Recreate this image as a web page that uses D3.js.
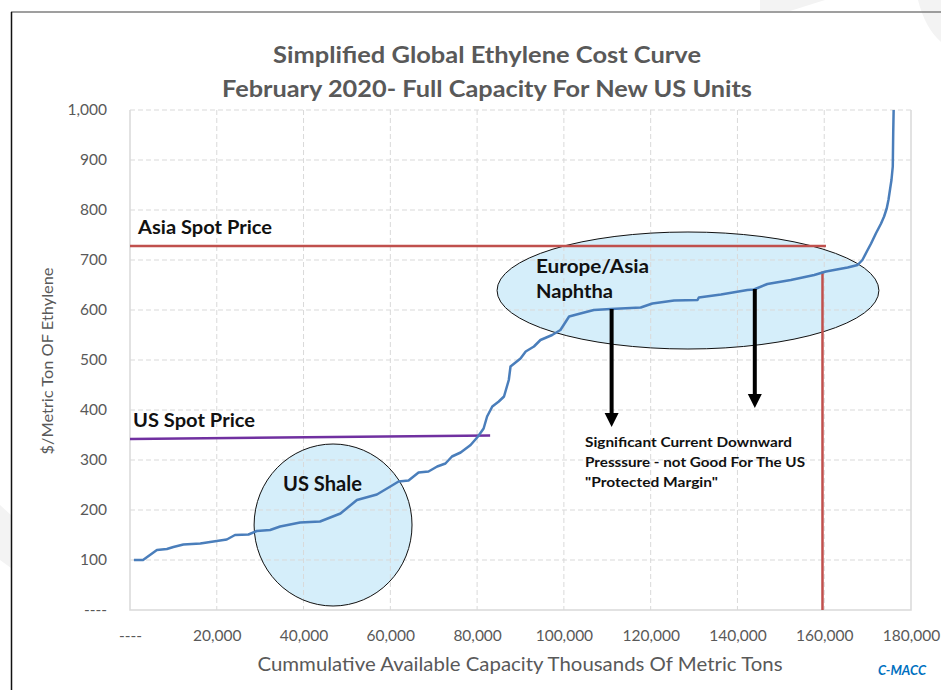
<!DOCTYPE html>
<html>
<head>
<meta charset="utf-8">
<script src="https://cdn.jsdelivr.net/npm/d3@7"></script>
<style>
  body { margin: 0; background: #fff; }
  svg { display: block; }
  text { font-family: Lato, "Open Sans", "DejaVu Sans", sans-serif; }
</style>
</head>
<body>
<svg id="chart" width="941" height="690"></svg>
<script>
// Cumulative capacity (thousand metric tons) and cash cost ($/t) along the cost curve
const capacity = [900, 3000, 6200, 8500, 10000, 12300, 16200, 20000, 22300, 24200, 27300, 29200,
  32300, 34600, 39200, 43800, 48500, 52300, 56900, 60000, 61900, 64200, 66500, 68800, 70800,
  72700, 74200, 76200, 78500, 80200, 81500, 82300, 83500, 85000, 86200, 87300, 87700, 90000,
  91200, 93100, 94600, 97300, 99200, 101200, 103800, 106900, 110800, 117700, 120400, 125400,
  130800, 131100, 136200, 142300, 143800, 146900, 152300, 157700, 160400, 165400, 167700,
  168800, 170000, 170800, 171900, 173100, 173800, 174400, 174800, 175200, 175500, 175800,
  175900, 176000];
const cost = [100, 100, 120, 122, 126, 131, 133, 138, 141, 150, 151, 158, 160, 167, 175, 177,
  193, 220, 231, 247, 257, 259, 275, 277, 287, 293, 307, 315, 330, 347, 363, 387, 407, 417,
  427, 460, 487, 503, 517, 527, 540, 550, 560, 587, 593, 600, 602, 605, 613, 619, 620, 625,
  631, 640, 641, 652, 660, 670, 677, 685, 690, 700, 720, 733, 753, 773, 787, 803, 820, 843,
  860, 887, 953, 1000];

// Axis ticks
const xTicks = [0, 20000, 40000, 60000, 80000, 100000, 120000, 140000, 160000, 180000];
const yTicks = [0, 100, 200, 300, 400, 500, 600, 700, 800, 900, 1000];

// Reference prices and markers
const asiaSpotPrice = [728, 728];
const asiaSpotRange = [0, 160400];
const usSpotPrice = [342, 349];
const usSpotRange = [0, 83000];
const newUnitsCapacity = [159600, 159600];
const newUnitsCost = [0, 677];
const arrowCapacity = [111000, 144000];
const arrowFromCost = [602, 642];
const arrowToCost = [366, 404];

const titleLines = ["Simplified Global Ethylene Cost Curve", "February 2020- Full Capacity For New US Units"];
const noteLines = ["Significant Current Downward", "Presssure - not Good For The US", "\"Protected Margin\""];

const svg = d3.select("#chart");
const plot = { left: 130, right: 911, top: 110, bottom: 610 };

const x = d3.scaleLinear().domain([0, 180000]).range([plot.left, plot.right]);
const y = d3.scaleLinear().domain([0, 1000]).range([plot.bottom, plot.top]);
const fmt = v => v === 0 ? "----" : d3.format(",")(v);

// faint background shapes behind the frame
const bg = svg.append("g").attr("fill", "#f3f3f3");
bg.append("path").attr("d", "M760,0 L825,0 L790,11 L760,11 Z");
bg.append("path").attr("d", "M918,0 L941,0 L941,42 Q925,28 918,0 Z");
bg.append("path").attr("d", "M0,505 L11,515 L11,568 L0,560 Z");

// frame
svg.append("line").attr("x1", 11).attr("x2", 941).attr("y1", 12).attr("y2", 12)
  .attr("stroke", "#7f7f7f").attr("stroke-width", 1.5);
svg.append("line").attr("x1", 11.5).attr("x2", 11.5).attr("y1", 12).attr("y2", 690)
  .attr("stroke", "#111").attr("stroke-width", 1.5);

// title
const title = svg.append("g").attr("fill", "#595959").attr("font-weight", "bold")
  .attr("font-size", 22).attr("text-anchor", "middle");
title.append("text").attr("x", 487).attr("y", 63).attr("textLength", 428)
  .attr("lengthAdjust", "spacingAndGlyphs").text(titleLines[0]);
title.append("text").attr("x", 487).attr("y", 97).attr("textLength", 530)
  .attr("lengthAdjust", "spacingAndGlyphs").text(titleLines[1]);

// annotation ellipses (under the grid so gridlines show through)
const ellipses = [
  { cx: 46800, cy: 170, rx: 18200, ry: 162 },
  { cx: 128600, cy: 639, rx: 44000, ry: 117 }
];
svg.append("g").selectAll("ellipse").data(ellipses).join("ellipse")
  .attr("cx", d => x(d.cx)).attr("cy", d => y(d.cy))
  .attr("rx", d => x(d.rx) - x(0)).attr("ry", d => y(0) - y(d.ry))
  .attr("fill", "#d5eefa");

// grid
const grid = svg.append("g").attr("stroke", "#d9d9d9").attr("stroke-width", 1)
  .attr("stroke-dasharray", "5,3");
grid.selectAll(".gx").data(xTicks.filter(d => d > 0 && d < 180000)).join("line")
  .attr("x1", d => x(d)).attr("x2", d => x(d)).attr("y1", plot.top).attr("y2", plot.bottom);
grid.selectAll(".gy").data(yTicks.filter(d => d > 0)).join("line")
  .attr("x1", plot.left).attr("x2", plot.right).attr("y1", d => y(d)).attr("y2", d => y(d));

const frameAxes = svg.append("g").attr("stroke", "#d9d9d9").attr("stroke-width", 1.5).attr("fill", "none");
frameAxes.append("path").attr("d", `M${plot.left},${plot.top}V${plot.bottom}H${plot.right}V${plot.top}`);

// ellipse outlines
svg.append("g").selectAll("ellipse").data(ellipses).join("ellipse")
  .attr("cx", d => x(d.cx)).attr("cy", d => y(d.cy))
  .attr("rx", d => x(d.rx) - x(0)).attr("ry", d => y(0) - y(d.ry))
  .attr("fill", "none").attr("stroke", "#111").attr("stroke-width", 1);

// axes
const yAxis = svg.append("g").attr("transform", `translate(${plot.left},0)`)
  .call(d3.axisLeft(y).tickValues(yTicks).tickSize(0).tickPadding(23).tickFormat(fmt));
const xAxis = svg.append("g").attr("transform", `translate(0,${plot.bottom})`)
  .call(d3.axisBottom(x).tickValues(xTicks).tickSize(0).tickPadding(20).tickFormat(fmt));
[yAxis, xAxis].forEach(a => {
  a.select(".domain").remove();
  a.selectAll("text").attr("fill", "#595959").attr("font-size", 15.5)
    .style("font-family", "Lato, 'Open Sans', sans-serif");
});

// axis titles
svg.append("text").attr("transform", "translate(53,361) rotate(-90)")
  .attr("text-anchor", "middle").attr("fill", "#595959").attr("font-size", 15)
  .attr("textLength", 187).attr("lengthAdjust", "spacingAndGlyphs")
  .text("$/Metric Ton OF Ethylene");
svg.append("text").attr("x", 520).attr("y", 671).attr("text-anchor", "middle")
  .attr("fill", "#595959").attr("font-size", 19)
  .attr("textLength", 525).attr("lengthAdjust", "spacingAndGlyphs")
  .text("Cummulative Available Capacity Thousands Of Metric Tons");
svg.append("text").attr("x", 878).attr("y", 675)
  .attr("fill", "#0070c0").attr("font-size", 12.5).attr("font-weight", "bold")
  .attr("font-style", "italic").attr("textLength", 48).attr("lengthAdjust", "spacingAndGlyphs")
  .text("C-MACC");

// price lines
svg.append("line").attr("x1", x(asiaSpotRange[0])).attr("x2", x(asiaSpotRange[1]))
  .attr("y1", y(asiaSpotPrice[0])).attr("y2", y(asiaSpotPrice[1]))
  .attr("stroke", "#c0504d").attr("stroke-width", 2.5);
svg.append("line").attr("x1", x(usSpotRange[0])).attr("x2", x(usSpotRange[1]))
  .attr("y1", y(usSpotPrice[0])).attr("y2", y(usSpotPrice[1]))
  .attr("stroke", "#7030a0").attr("stroke-width", 2.5);
svg.append("line").attr("x1", x(newUnitsCapacity[0])).attr("x2", x(newUnitsCapacity[1]))
  .attr("y1", y(newUnitsCost[0])).attr("y2", y(newUnitsCost[1]))
  .attr("stroke", "#c0504d").attr("stroke-width", 2.5);

// cost curve
svg.append("clipPath").attr("id", "plotClip").append("rect")
  .attr("x", plot.left).attr("y", plot.top).attr("width", plot.right - plot.left)
  .attr("height", plot.bottom - plot.top);
const line = d3.line().x((d, i) => x(capacity[i])).y(d => y(d));
svg.append("path").datum(cost).attr("clip-path", "url(#plotClip)")
  .attr("d", line).attr("fill", "none").attr("stroke", "#4a7ebb")
  .attr("stroke-width", 2.5).attr("stroke-linejoin", "round");

// downward arrows
const arrows = svg.append("g");
arrowCapacity.forEach((c, i) => {
  const ax = x(c), y0 = y(arrowFromCost[i]), y1 = y(arrowToCost[i]);
  arrows.append("line").attr("x1", ax).attr("x2", ax).attr("y1", y0).attr("y2", y1 - 12)
    .attr("stroke", "#000").attr("stroke-width", 4);
  arrows.append("path").attr("d", `M${ax - 7},${y1 - 14}L${ax + 7},${y1 - 14}L${ax},${y1}Z`)
    .attr("fill", "#000");
});

// labels (widths fitted to the narrow bold face)
const lab = svg.append("g").attr("fill", "#111").attr("font-weight", "bold");
const fit = (sel, w) => sel.attr("textLength", w).attr("lengthAdjust", "spacingAndGlyphs");
fit(lab.append("text").attr("x", 138).attr("y", 234).attr("font-size", 18.5).text("Asia Spot Price"), 134);
fit(lab.append("text").attr("x", 133).attr("y", 427).attr("font-size", 18.5).text("US Spot Price"), 122);
fit(lab.append("text").attr("x", 283).attr("y", 491).attr("font-size", 20).text("US Shale"), 79);
fit(lab.append("text").attr("x", 536).attr("y", 273).attr("font-size", 19.5).text("Europe/Asia"), 113);
fit(lab.append("text").attr("x", 536).attr("y", 298).attr("font-size", 19.5).text("Naphtha"), 77);
const noteWidths = [207, 220, 133];
lab.selectAll(".note").data(noteLines).join("text")
  .attr("x", 585).attr("y", (d, i) => 447 + i * 20).attr("font-size", 14)
  .attr("textLength", (d, i) => noteWidths[i]).attr("lengthAdjust", "spacingAndGlyphs")
  .text(d => d);
</script>
</body>
</html>
